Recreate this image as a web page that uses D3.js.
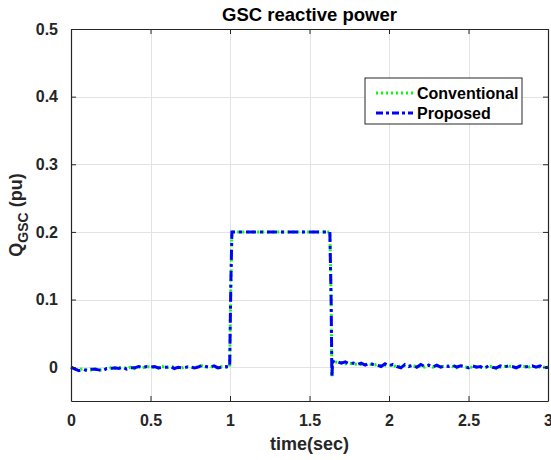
<!DOCTYPE html>
<html>
<head>
<meta charset="utf-8">
<script src="https://cdn.jsdelivr.net/npm/d3@7"></script>
<style>
  body { margin: 0; background: #fff; }
  svg { display: block; font-family: "Liberation Sans", Arial, sans-serif; }
</style>
</head>
<body>
<div id="chart"></div>
<script>
// sample times (sec)
const time = [
  0, 0.025, 0.05, 0.075, 0.1, 0.125, 0.15, 0.175, 0.2, 0.225,
  0.25, 0.275, 0.3, 0.325, 0.35, 0.375, 0.4, 0.425, 0.45, 0.475,
  0.5, 0.525, 0.55, 0.575, 0.6, 0.625, 0.65, 0.675, 0.7, 0.725,
  0.75, 0.775, 0.8, 0.825, 0.85, 0.875, 0.9, 0.925, 0.95, 0.975,
  0.998, 1.005, 1.012, 1.2, 1.4, 1.628, 1.636, 1.641, 1.645, 1.66,
  1.675, 1.7, 1.725, 1.75, 1.775, 1.8, 1.825, 1.85, 1.875, 1.9,
  1.925, 1.95, 1.975, 2.0, 2.025, 2.05, 2.075, 2.1, 2.125, 2.15,
  2.175, 2.2, 2.225, 2.25, 2.275, 2.3, 2.325, 2.35, 2.375, 2.4,
  2.425, 2.45, 2.475, 2.5, 2.525, 2.55, 2.575, 2.6, 2.625, 2.65,
  2.675, 2.7, 2.725, 2.75, 2.775, 2.8, 2.825, 2.85, 2.875, 2.9,
  2.925, 2.95, 2.975, 3.0
];

// Q_GSC, proposed controller (pu)
const proposed = [
  0.000, -0.003, -0.005, -0.003, -0.005, -0.003, -0.003, -0.004, -0.005, -0.002,
  -0.002, -0.001, -0.002, 0.000, -0.003, -0.001, -0.001, 0.001, -0.001, 0.001,
  0.000, 0.001, -0.001, 0.000, 0.000, 0.001, -0.002, 0.000, -0.001, 0.000,
  0.001, -0.001, 0.000, 0.003, 0.001, 0.000, 0.002, -0.001, 0.000, 0.001,
  0.000, 0.120, 0.200, 0.200, 0.200, 0.200, 0.100, -0.015, 0.009, 0.007,
  0.008, 0.006, 0.008, 0.005, 0.006, 0.004, 0.006, 0.003, 0.006, 0.004,
  0.003, 0.001, 0.005, 0.002, 0.004, 0.001, -0.001, 0.004, 0.001, 0.003,
  0.000, 0.004, 0.001, 0.003, 0.000, 0.003, 0.000, 0.002, 0.001, 0.003,
  0.000, 0.002, 0.001, -0.001, 0.002, 0.000, 0.001, -0.002, 0.002, 0.000,
  -0.001, 0.002, 0.000, 0.002, 0.001, -0.001, 0.002, 0.000, 0.001, 0.002,
  0.000, 0.002, -0.001, 0.000
];

// Q_GSC, conventional controller (pu)
const conventional = [
  0.000, -0.003, -0.004, -0.002, -0.004, -0.004, -0.002, -0.004, -0.004, -0.002,
  -0.001, -0.002, -0.001, 0.000, -0.002, 0.000, -0.002, 0.001, -0.001, 0.001,
  0.000, 0.000, -0.001, 0.001, -0.001, 0.001, 0.000, -0.001, -0.001, 0.001,
  0.000, -0.001, 0.001, 0.002, 0.000, 0.001, 0.000, -0.001, 0.001, 0.000,
  0.000, 0.118, 0.200, 0.200, 0.200, 0.200, 0.102, -0.014, 0.008, 0.008,
  0.007, 0.007, 0.005, 0.006, 0.005, 0.004, 0.004, 0.004, 0.005, 0.003,
  0.004, 0.002, 0.003, 0.003, 0.003, 0.000, 0.002, 0.002, 0.002, 0.002,
  0.001, 0.002, 0.000, 0.003, 0.000, 0.002, 0.001, 0.001, 0.002, 0.001,
  -0.001, 0.003, 0.000, 0.000, 0.000, 0.001, 0.000, -0.001, 0.001, 0.001,
  -0.002, 0.000, 0.001, 0.001, 0.002, -0.001, 0.001, 0.001, 0.000, 0.001,
  0.001, 0.000, 0.000, 0.000
];

const xTicks = [0, 0.5, 1, 1.5, 2, 2.5, 3];
const yTicks = [0, 0.1, 0.2, 0.3, 0.4, 0.5];
const seriesNames = ["Conventional", "Proposed"];

const width = 551, height = 460;
const margin = { top: 29, right: 3, bottom: 59, left: 71 };
const axisColor = "#262626";
const fontFamily = "Liberation Sans, Arial, sans-serif";

const svg = d3.select("#chart").append("svg")
  .attr("width", width)
  .attr("height", height);

const x = d3.scaleLinear().domain([0, 3]).range([margin.left, width - margin.right]);
const y = d3.scaleLinear().domain([-0.05, 0.5]).range([height - margin.bottom, margin.top]);

// grid
const grid = svg.append("g").attr("stroke", "#e3e3e3").attr("stroke-width", 1);
grid.selectAll("line.gx").data(xTicks).join("line")
  .attr("x1", d => Math.round(x(d)) + 0.5).attr("x2", d => Math.round(x(d)) + 0.5)
  .attr("y1", y.range()[0]).attr("y2", y.range()[1]);
grid.selectAll("line.gy").data(yTicks).join("line")
  .attr("y1", d => Math.round(y(d)) + 0.5).attr("y2", d => Math.round(y(d)) + 0.5)
  .attr("x1", x.range()[0]).attr("x2", x.range()[1]);

// lines
const line = d3.line().x((d, i) => x(time[i])).y(d => y(d));

svg.append("path").datum(conventional)
  .attr("fill", "none")
  .attr("stroke", "#00ff00")
  .attr("stroke-width", 3)
  .attr("stroke-dasharray", "2,3")
  .attr("d", line);

svg.append("path").datum(proposed)
  .attr("fill", "none")
  .attr("stroke", "#0000ff")
  .attr("stroke-width", 3)
  .attr("stroke-dasharray", "10,4,3,4")
  .attr("d", line);

// axes: MATLAB style box, inward ticks on every side
const tickLen = 5;
const fmt = d => d3.format("")(d);

const xAxis = svg.append("g")
  .attr("transform", `translate(0,${y.range()[0]})`)
  .call(d3.axisBottom(x).tickValues(xTicks).tickSizeInner(-tickLen).tickSizeOuter(0).tickPadding(14).tickFormat(fmt));
const xAxisTop = svg.append("g")
  .attr("transform", `translate(0,${y.range()[1]})`)
  .call(d3.axisTop(x).tickValues(xTicks).tickSizeInner(-tickLen).tickSizeOuter(0).tickFormat(""));
const yAxis = svg.append("g")
  .attr("transform", `translate(${x.range()[0]},0)`)
  .call(d3.axisLeft(y).tickValues(yTicks).tickSizeInner(-tickLen).tickSizeOuter(0).tickPadding(13).tickFormat(fmt));
const yAxisRight = svg.append("g")
  .attr("transform", `translate(${x.range()[1]},0)`)
  .call(d3.axisRight(y).tickValues(yTicks).tickSizeInner(-tickLen).tickSizeOuter(0).tickFormat(""));

[xAxis, xAxisTop, yAxis, yAxisRight].forEach(g => {
  g.select(".domain").attr("stroke", axisColor).attr("stroke-width", 1.2);
  g.selectAll(".tick line").attr("stroke", axisColor);
  g.selectAll(".tick text")
    .attr("fill", axisColor)
    .attr("font-size", 16)
    .attr("font-weight", "bold")
    .attr("font-family", fontFamily);
});

// title and labels
svg.append("text")
  .attr("x", (x.range()[0] + x.range()[1]) / 2)
  .attr("y", 21)
  .attr("text-anchor", "middle")
  .attr("font-size", 18.5)
  .attr("font-weight", "bold")
  .attr("fill", "#000")
  .text("GSC reactive power");

svg.append("text")
  .attr("x", (x.range()[0] + x.range()[1]) / 2)
  .attr("y", 450)
  .attr("text-anchor", "middle")
  .attr("font-size", 18)
  .attr("font-weight", "bold")
  .attr("fill", axisColor)
  .text("time(sec)");

const yl = svg.append("text")
  .attr("transform", `translate(22,${(y.range()[0] + y.range()[1]) / 2}) rotate(-90)`)
  .attr("text-anchor", "middle")
  .attr("font-size", 18)
  .attr("font-weight", "bold")
  .attr("fill", axisColor);
yl.append("tspan").text("Q");
yl.append("tspan").attr("font-size", 14).attr("dy", 6).text("GSC");
yl.append("tspan").attr("dy", -6).text(" (pu)");

// legend
const lg = svg.append("g").attr("transform", "translate(365,78)");
lg.append("rect")
  .attr("width", 157).attr("height", 46)
  .attr("fill", "#fff").attr("stroke", "#262626").attr("stroke-width", 1);
const legendStyles = [
  { color: "#00ff00", dash: "2,3" },
  { color: "#0000ff", dash: "7,3,3,3" }
];
seriesNames.forEach((name, i) => {
  const yy = 15 + i * 20;
  lg.append("line")
    .attr("x1", 11).attr("x2", 48).attr("y1", yy).attr("y2", yy)
    .attr("stroke", legendStyles[i].color)
    .attr("stroke-width", 3)
    .attr("stroke-dasharray", legendStyles[i].dash);
  lg.append("text")
    .attr("x", 52).attr("y", yy + 6)
    .attr("font-size", 16)
    .attr("font-weight", "bold")
    .attr("fill", "#000")
    .text(name);
});
</script>
</body>
</html>
